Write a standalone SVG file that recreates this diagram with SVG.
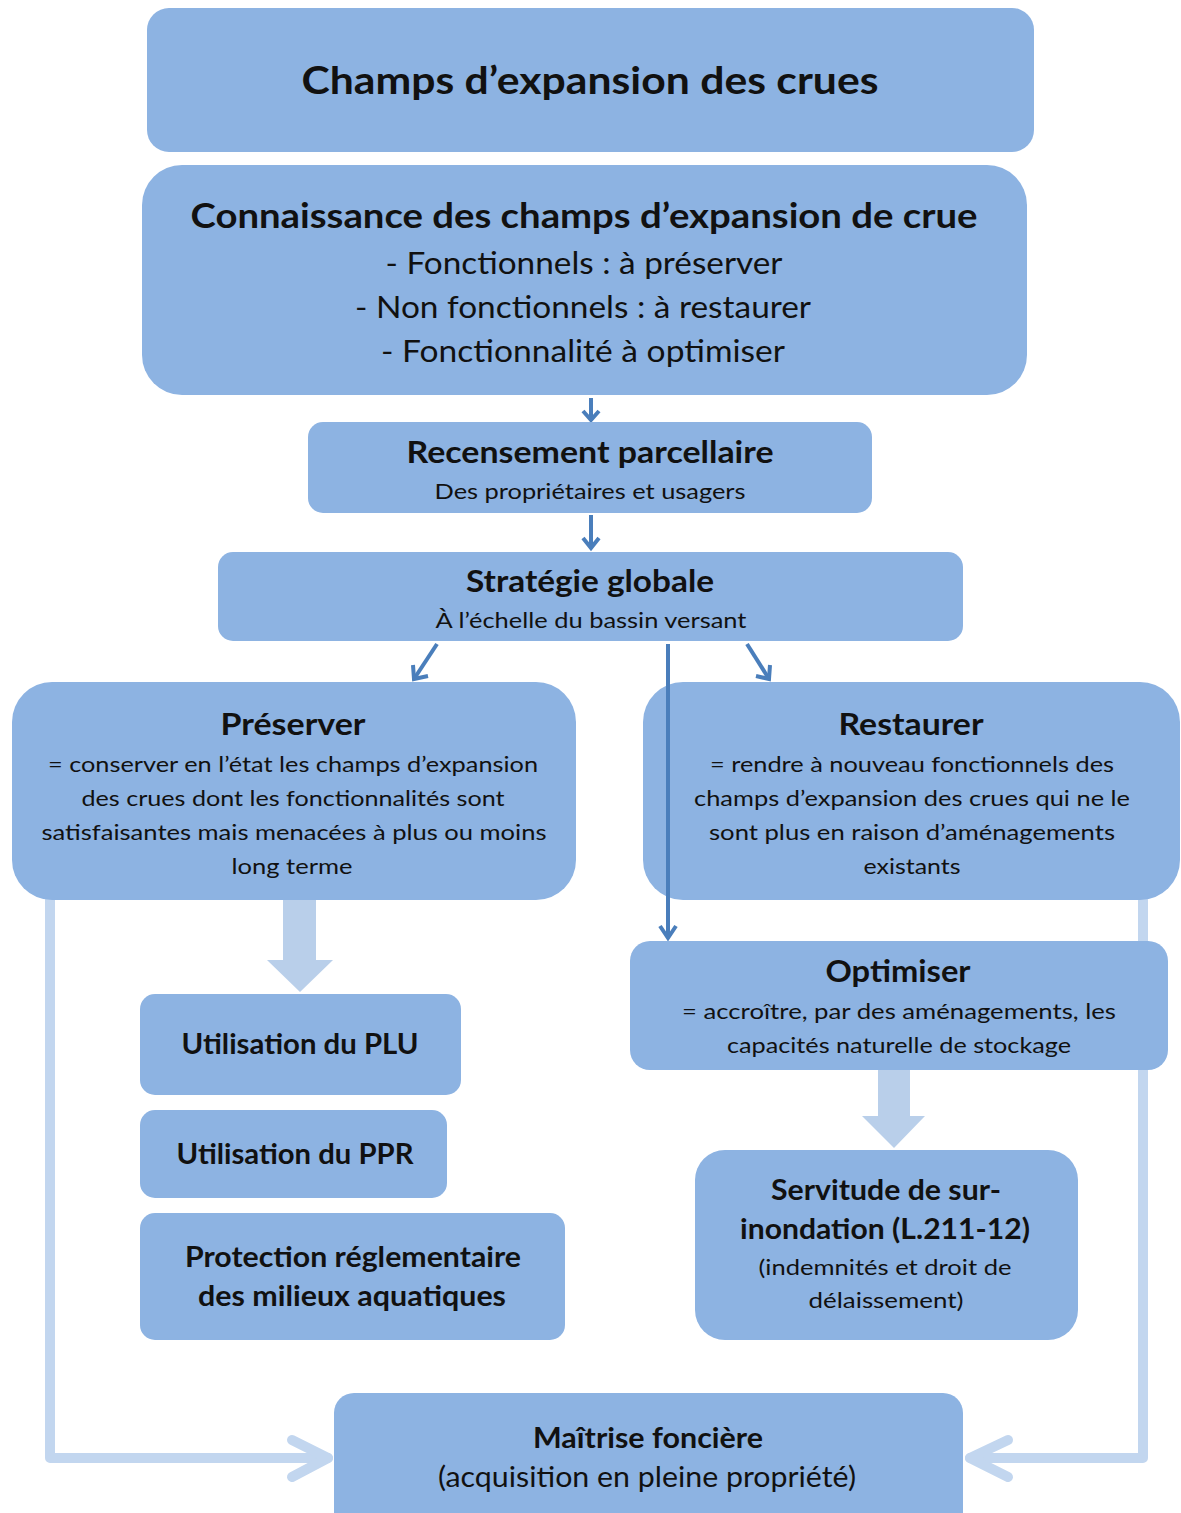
<svg xmlns="http://www.w3.org/2000/svg" width="1181" height="1513" viewBox="0 0 1181 1513">
<style>
.n{fill:#8db3e2}
text{font-family:Lato,"Open Sans","Liberation Sans",sans-serif;fill:#111;text-anchor:middle}
.b{font-weight:bold}
.dk{stroke:#4a7ebb;stroke-width:4;fill:none}
.lt{stroke:#c2d6ef;stroke-width:10;fill:none;stroke-linejoin:round;stroke-linecap:round}
.fat{fill:#b9cfea}
</style>
<defs>
<marker id="ah" viewBox="0 0 12 12" refX="10" refY="6" markerWidth="4" markerHeight="4" orient="auto" markerUnits="userSpaceOnUse" overflow="visible">
<path d="M-2,-2 L10,6 L-2,14" fill="none" stroke="#4a7ebb" stroke-width="4"/>
</marker>
</defs>
<rect width="1181" height="1513" fill="#fff"/>
<g id="connectors">
<path class="dk" d="M591,398 V420"/><path class="dk" d="M583,411 L591,420 L599,411"/>
<path class="dk" d="M591,515 V548"/><path class="dk" d="M583,538 L591,548 L599,538"/>
<path class="dk" d="M437,644 L414,679"/><path class="dk" d="M413,665 L414,679 L428,676"/>
<path class="dk" d="M747,644 L769,679"/><path class="dk" d="M756,676 L769,679 L770,665"/>
<path class="fat" d="M283,900 H316 V960 H333 L300,992 L267,960 H283 Z"/>
<path class="fat" d="M878,1070 H910 V1116 H925 L894,1148 L862,1116 H878 Z"/>
<path class="lt" d="M50,900 V1458 H328"/><path class="lt" d="M292,1440 L328,1458 L292,1477"/>
<path class="lt" d="M1143,900 V1458 H970"/><path class="lt" d="M1008,1440 L970,1458 L1008,1477"/>
</g>
<g id="n1"><rect class="n" x="147" y="8" width="887" height="144" rx="22"/>
<text class="b" x="590" y="94" font-size="38" textLength="577" lengthAdjust="spacingAndGlyphs">Champs d’expansion des crues</text></g>
<g id="n2"><rect class="n" x="142" y="165" width="885" height="230" rx="40"/>
<text class="b" x="584" y="228" font-size="35" textLength="787" lengthAdjust="spacingAndGlyphs">Connaissance des champs d’expansion de crue</text>
<text x="584" y="274" font-size="30" textLength="397" lengthAdjust="spacingAndGlyphs">- Fonctionnels : à préserver</text>
<text x="583" y="318" font-size="30" textLength="456" lengthAdjust="spacingAndGlyphs">- Non fonctionnels : à restaurer</text>
<text x="583" y="362" font-size="30" textLength="404" lengthAdjust="spacingAndGlyphs">- Fonctionnalité à optimiser</text></g>
<g id="n3"><rect class="n" x="308" y="422" width="564" height="91" rx="15"/>
<text class="b" x="590" y="463" font-size="30" textLength="367" lengthAdjust="spacingAndGlyphs">Recensement parcellaire</text>
<text x="590" y="499" font-size="22" textLength="311" lengthAdjust="spacingAndGlyphs">Des propriétaires et usagers</text></g>
<g id="n4"><rect class="n" x="218" y="552" width="745" height="89" rx="15"/>
<text class="b" x="590" y="592" font-size="30" textLength="248" lengthAdjust="spacingAndGlyphs">Stratégie globale</text>
<text x="591" y="628" font-size="22" textLength="311" lengthAdjust="spacingAndGlyphs">À l’échelle du bassin versant</text></g>
<g id="n5"><rect class="n" x="12" y="682" width="564" height="218" rx="40"/>
<text class="b" x="293" y="735" font-size="30" textLength="145" lengthAdjust="spacingAndGlyphs">Préserver</text>
<text x="293" y="772" font-size="22" textLength="490" lengthAdjust="spacingAndGlyphs">= conserver en l’état les champs d’expansion</text>
<text x="293" y="806" font-size="22" textLength="423" lengthAdjust="spacingAndGlyphs">des crues dont les fonctionnalités sont</text>
<text x="294" y="840" font-size="22" textLength="505" lengthAdjust="spacingAndGlyphs">satisfaisantes mais menacées à plus ou moins</text>
<text x="292" y="874" font-size="22" textLength="121" lengthAdjust="spacingAndGlyphs">long terme</text></g>
<g id="n6"><rect class="n" x="643" y="682" width="537" height="218" rx="40"/>
<text class="b" x="911" y="735" font-size="30" textLength="145" lengthAdjust="spacingAndGlyphs">Restaurer</text>
<text x="912" y="772" font-size="22" textLength="404" lengthAdjust="spacingAndGlyphs">= rendre à nouveau fonctionnels des</text>
<text x="912" y="806" font-size="22" textLength="436" lengthAdjust="spacingAndGlyphs">champs d’expansion des crues qui ne le</text>
<text x="912" y="840" font-size="22" textLength="406" lengthAdjust="spacingAndGlyphs">sont plus en raison d’aménagements</text>
<text x="912" y="874" font-size="22" textLength="97" lengthAdjust="spacingAndGlyphs">existants</text></g>
<path class="dk" d="M668,644 V936"/><path class="dk" d="M660,926 L668,938 L676,926"/>
<g id="n7"><rect class="n" x="630" y="941" width="538" height="129" rx="20"/>
<text class="b" x="898" y="982" font-size="30" textLength="145" lengthAdjust="spacingAndGlyphs">Optimiser</text>
<text x="899" y="1019" font-size="22" textLength="434" lengthAdjust="spacingAndGlyphs">= accroître, par des aménagements, les</text>
<text x="899" y="1053" font-size="22" textLength="344" lengthAdjust="spacingAndGlyphs">capacités naturelle de stockage</text></g>
<g id="n8"><rect class="n" x="140" y="994" width="321" height="101" rx="15"/>
<text class="b" x="300" y="1054" font-size="28" textLength="237" lengthAdjust="spacingAndGlyphs">Utilisation du PLU</text></g>
<g id="n9"><rect class="n" x="140" y="1110" width="307" height="88" rx="15"/>
<text class="b" x="295" y="1164" font-size="28" textLength="237" lengthAdjust="spacingAndGlyphs">Utilisation du PPR</text></g>
<g id="n10"><rect class="n" x="140" y="1213" width="425" height="127" rx="15"/>
<text class="b" x="353" y="1267" font-size="28" textLength="336" lengthAdjust="spacingAndGlyphs">Protection réglementaire</text>
<text class="b" x="352" y="1306" font-size="28" textLength="308" lengthAdjust="spacingAndGlyphs">des milieux aquatiques</text></g>
<g id="n11"><rect class="n" x="695" y="1150" width="383" height="190" rx="30"/>
<text class="b" x="886" y="1200" font-size="28" textLength="230" lengthAdjust="spacingAndGlyphs">Servitude de sur-</text>
<text class="b" x="885" y="1239" font-size="28" textLength="290" lengthAdjust="spacingAndGlyphs">inondation (L.211-12)</text>
<text x="885" y="1275" font-size="22" textLength="253" lengthAdjust="spacingAndGlyphs">(indemnités et droit de</text>
<text x="886" y="1308" font-size="22" textLength="155" lengthAdjust="spacingAndGlyphs">délaissement)</text></g>
<g id="n12"><rect class="n" x="334" y="1393" width="629" height="140" rx="20"/>
<text class="b" x="648" y="1448" font-size="28" textLength="230" lengthAdjust="spacingAndGlyphs" font-weight="600">Maîtrise foncière</text>
<text x="647" y="1487" font-size="28" textLength="418" lengthAdjust="spacingAndGlyphs">(acquisition en pleine propriété)</text></g>
</svg>
